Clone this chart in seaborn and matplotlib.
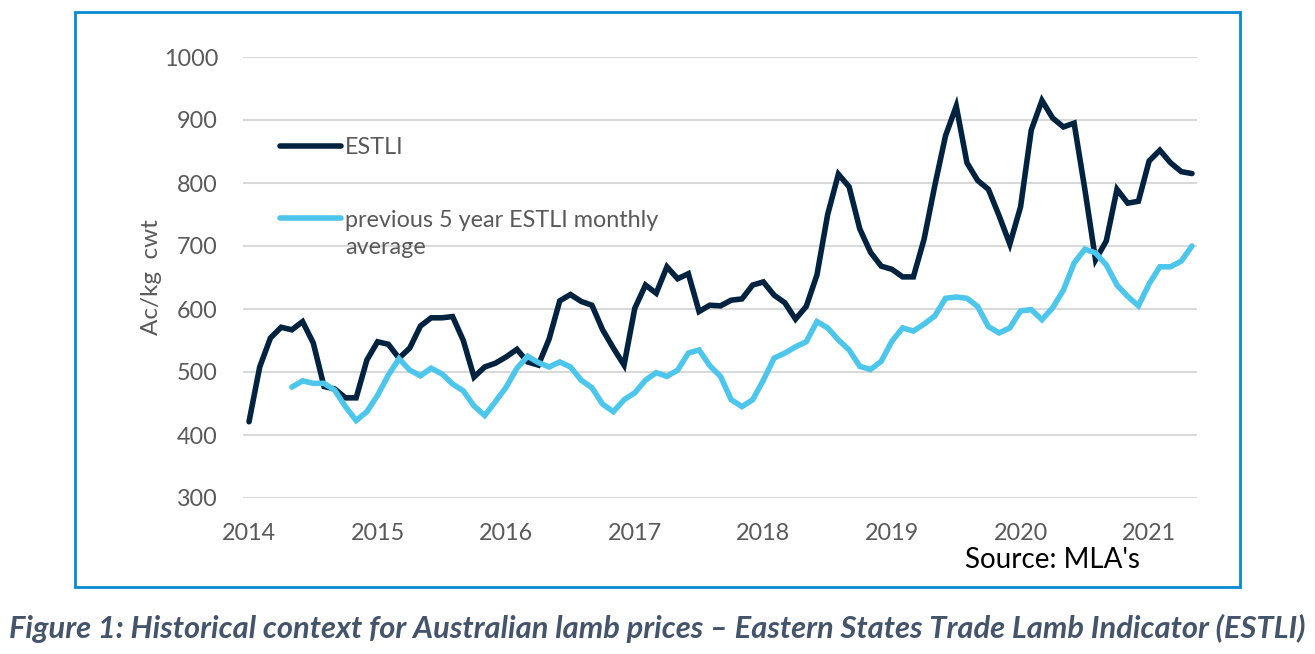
import numpy as np
import pandas as pd
import matplotlib
matplotlib.use("Agg")
import matplotlib.pyplot as plt
import seaborn as sns
from matplotlib.patches import Rectangle

# monthly series, Jan 2014 - May 2021 (A c/kg cwt)
months = pd.date_range("2014-01-01", "2021-05-01", freq="MS")
estli = [421, 508, 554, 571, 567, 580, 546, 477, 473, 459, 459, 519,
         548, 544, 522, 538, 573, 586, 586, 588, 550, 492, 508, 514,
         524, 536, 516, 511, 552, 613, 623, 612, 606, 567, 538, 511,
         601, 638, 625, 667, 648, 656, 596, 606, 605, 614, 616, 638,
         643, 622, 610, 584, 604, 654, 750, 814, 794, 727, 690, 668,
         663, 651, 651, 711, 796, 875, 922, 832, 804, 790, 748, 703,
         762, 884, 931, 903, 889, 895, 790, 678, 708, 790, 768, 771,
         835, 852, 832, 818, 815]
# previous 5 year average starts May 2014
avg_start = 4
avg5 = [476, 486, 482, 482, 471, 445, 423, 437,
        463, 495, 521, 503, 494, 506, 497, 481, 470, 446, 431, 453,
        476, 506, 525, 515, 508, 516, 508, 487, 475, 449, 437, 456,
        467, 487, 499, 493, 503, 530, 535, 510, 493, 456, 445, 456,
        487, 522, 530, 540, 548, 580, 570, 551, 535, 509, 504, 517,
        549, 570, 565, 576, 589, 617, 619, 617, 604, 572, 562, 570,
        597, 599, 583, 602, 630, 673, 695, 689, 670, 638, 620, 605,
        640, 667, 667, 676, 700]
years = list(range(2014, 2022))
yticks = list(range(300, 1001, 100))

dec_year = months.year + (months.month - 1) / 12
df = pd.DataFrame({"x": dec_year, "ESTLI": estli})
df["avg"] = np.nan
df.loc[avg_start:, "avg"] = avg5

sns.set_theme(style="white")
plt.rcParams["font.family"] = ["Lato", "DejaVu Sans"]

navy = "#01233F"
sky = "#4DC6EB"
grey = "#595959"
fs = 16.8

fig = plt.figure(figsize=(13.15, 6.54), dpi=100)
ax = fig.add_axes([243 / 1315, 1 - 498 / 654, 954 / 1315, 441 / 654])

sns.lineplot(data=df, x="x", y="ESTLI", ax=ax, color=navy, linewidth=4,
             label="ESTLI", solid_capstyle="round", solid_joinstyle="miter")
sns.lineplot(data=df, x="x", y="avg", ax=ax, color=sky, linewidth=4,
             label="previous 5 year ESTLI monthly", solid_capstyle="round",
             solid_joinstyle="miter")

ax.set_xlim(2014 - 6 / 128.6, dec_year[-1] + 5 / 128.6)
ax.set_ylim(300, 1000)
ax.set_yticks(yticks)
ax.set_xticks(years)
ax.set_xticklabels([str(y) for y in years])
ax.grid(axis="y", color="#D9D9D9", linewidth=1.5)
ax.set_axisbelow(True)
for s in ax.spines.values():
    s.set_visible(False)
ax.tick_params(axis="both", length=0, labelsize=fs, labelcolor=grey)
ax.tick_params(axis="y", pad=18)
ax.tick_params(axis="x", pad=18)
ax.set_xlabel("")
ax.set_ylabel("Ac/kg  cwt", fontsize=17.5, color=grey)
ax.yaxis.set_label_coords(-0.085, 0.5)

leg = ax.legend(loc="upper left", bbox_to_anchor=(0.0388, 0.818), frameon=False,
                fontsize=fs, handlelength=2.6, handletextpad=0.18,
                labelspacing=2.2, borderpad=0, borderaxespad=0)
for t in leg.get_texts():
    t.set_color(grey)
ax.text(345 / 1315, 1 - 248 / 654, "average", transform=fig.transFigure,
        fontsize=fs, color=grey, va="center", ha="left")

fig.text(965 / 1315, 1 - 560 / 654, "Source: MLA's", fontsize=20, color="black",
         va="center", ha="left")
fig.patches.append(Rectangle((75 / 1315, 1 - 587 / 654), 1165 / 1315, 575 / 654,
                             transform=fig.transFigure, fill=False,
                             edgecolor="#0A8AD2", linewidth=2))
fig.text(0.5, 1 - 628 / 654,
         "Figure 1: Historical context for Australian lamb prices \u2013 Eastern States Trade Lamb Indicator (ESTLI)",
         fontsize=22.2, fontweight="bold", fontstyle="italic", color="#44546A",
         ha="center", va="center")

fig.savefig("out.png", dpi=100)
